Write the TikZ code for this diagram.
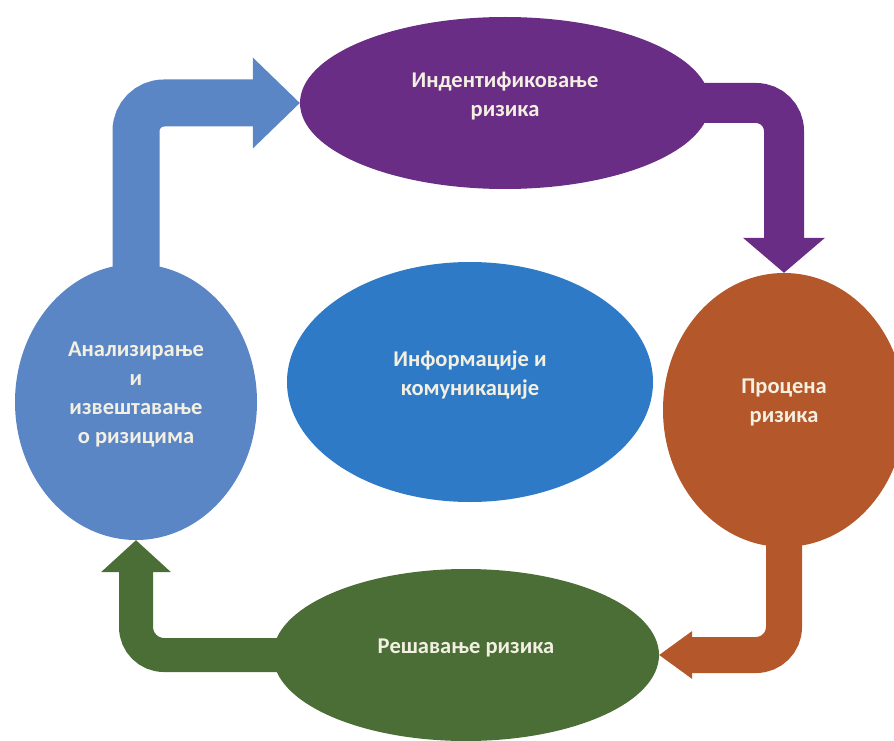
\documentclass[tikz,border=0pt]{standalone}
\usepackage{fontspec}
\setmainfont{Carlito}
\usetikzlibrary{shapes.geometric,arrows.meta,backgrounds}
\definecolor{identc}{HTML}{6A2D85}
\definecolor{analizc}{HTML}{5A86C5}
\definecolor{infoc}{HTML}{2E7AC6}
\definecolor{procenac}{HTML}{B4572A}
\definecolor{resavc}{HTML}{4B6E37}
\definecolor{txtc}{HTML}{F3F0E2}

\begin{document}
\begin{tikzpicture}[x=1pt,y=-1pt,
  blob/.style={ellipse,inner sep=0pt,text=txtc,align=center,text depth=18pt,
    font=\bfseries\fontsize{22.5}{29}\selectfont},
  shaft/.style={line width=#1,rounded corners=28pt}]
  \useasboundingbox (0,0) rectangle (894,741);
  \node[blob,fill=identc,minimum width=410pt,minimum height=172pt] (ident) at (505,103) {Индентификовање\\ризика};
  \node[blob,fill=procenac,minimum width=242pt,minimum height=274pt] (procena) at (784,410) {Процена\\ризика};
  \node[blob,fill=resavc,minimum width=386pt,minimum height=172pt] (resav) at (466,655) {Решавање ризика};
  \node[blob,fill=analizc,minimum width=242pt,minimum height=276pt] (analiz) at (136,402) {Анализирање\\и\\извештавање\\о ризицима};
  \node[blob,fill=infoc,minimum width=366pt,minimum height=240pt] (info) at (470,382) {Информације и\\комуникације};
  \begin{scope}[on background layer]
    \draw[shaft=47pt,analizc,-{Triangle[width=91pt,length=47pt,line width=0pt]}] (analiz.center) |- (ident.west);
    \draw[shaft=40pt,identc,-{Triangle[width=82pt,length=35pt,line width=0pt]}] (ident.center) -| (procena.north);
    \draw[shaft=36pt,procenac,-{Triangle[width=48pt,length=33pt,line width=0pt]}] (procena.center) |- (resav.east);
    \draw[shaft=34pt,resavc,-{Triangle[width=70pt,length=32pt,line width=0pt]}] (resav.center) -| (analiz.south);
  \end{scope}
\end{tikzpicture}
\end{document}
